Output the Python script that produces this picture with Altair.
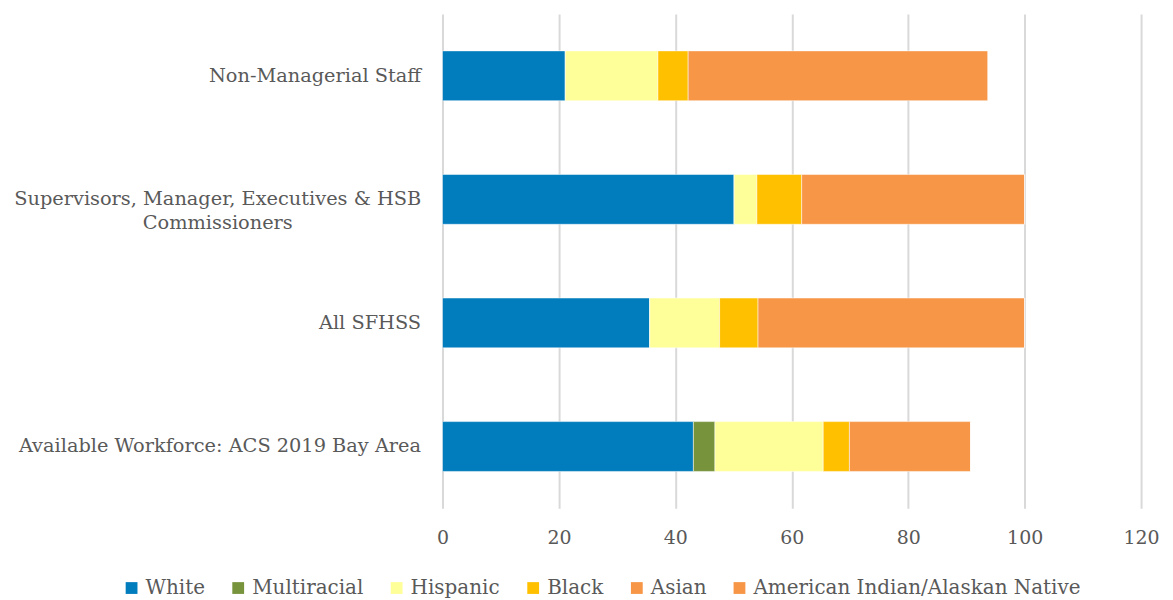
import altair as alt
import pandas as pd

categories = [
    "Non-Managerial Staff",
    "Supervisors, Manager, Executives & HSB Commissioners",
    "All SFHSS",
    "Available Workforce: ACS 2019 Bay Area",
]
groups = ["White", "Multiracial", "Hispanic", "Black", "Asian", "American Indian/Alaskan Native"]
colors = ["#017CBC", "#77933C", "#FFFF99", "#FFC000", "#F79646", "#F79646"]

white = [21.1, 50.1, 35.6, 43.1]
multiracial = [0.0, 0.0, 0.0, 3.7]
hispanic = [15.9, 3.9, 12.0, 18.6]
black = [5.2, 7.7, 6.6, 4.5]
asian = [51.5, 38.3, 45.8, 20.8]
american_indian = [0.0, 0.0, 0.0, 0.0]

series = [white, multiracial, hispanic, black, asian, american_indian]
rows = []
for gi, (g, vals) in enumerate(zip(groups, series)):
    for c, v in zip(categories, vals):
        rows.append({"category": c, "group": g, "value": v, "order": gi})
df = pd.DataFrame(rows)

FONT = "DejaVu Serif"
GRAY = "#595959"
LONG = "Supervisors, Manager, Executives & HSB Commissioners"
test = "datum.value == '" + LONG + "'"

label_expr = (
    "datum.label == '" + LONG + "' ? "
    "['Supervisors, Manager, Executives & HSB', 'Commissioners'] : datum.label"
)

chart = (
    alt.Chart(df)
    .mark_bar(size=50, stroke="white", strokeWidth=0.5)
    .encode(
        x=alt.X(
            "value:Q",
            stack="zero",
            scale=alt.Scale(domain=[0, 120], nice=False),
            axis=alt.Axis(
                values=[0, 20, 40, 60, 80, 100, 120],
                title=None,
                domain=False,
                ticks=False,
                labelFlush=False,
                labelFont=FONT,
                labelFontSize=19,
                labelColor=GRAY,
                labelPadding=20,
                grid=True,
                gridColor="#D9D9D9",
                gridWidth=2,
            ),
        ),
        y=alt.Y(
            "category:N",
            sort=categories,
            scale=alt.Scale(paddingInner=0.6, paddingOuter=0.3),
            axis=alt.Axis(
                title=None,
                domain=False,
                ticks=False,
                labelFont=FONT,
                labelFontSize=19.4,
                labelColor=GRAY,
                labelPadding={"condition": {"test": test, "value": 226}, "value": 22},
                labelAlign={"condition": {"test": test, "value": "center"}, "value": "right"},
                labelLimit=500,
                labelExpr=label_expr,
                labelLineHeight=24,
            ),
        ),
        color=alt.Color(
            "group:N",
            sort=groups,
            scale=alt.Scale(domain=groups, range=colors),
            legend=alt.Legend(
                title=None,
                orient="none",
                legendX=-322,
                legendY=566,
                direction="horizontal",
                columns=6,
                symbolType="square",
                symbolSize=140,
                symbolStrokeWidth=0,
                labelFont=FONT,
                labelFontSize=20,
                labelColor=GRAY,
                columnPadding=23,
                labelOffset=4,
                labelLimit=400,
            ),
        ),
        order=alt.Order("order:Q"),
    )
    .properties(width=701, height=496)
    .configure(background="white")
    .configure_view(stroke=None)
)

chart.save("out.html", embed_options={"renderer": "svg", "actions": False})
